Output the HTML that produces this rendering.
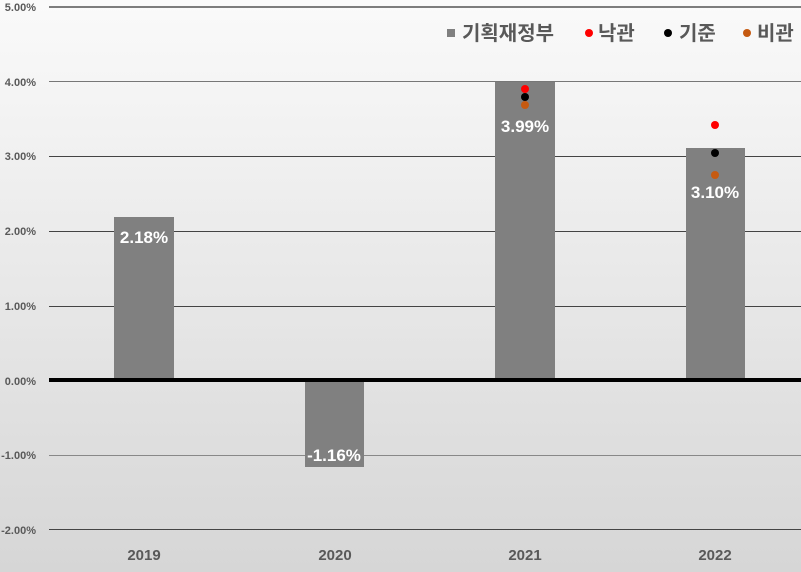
<!DOCTYPE html>
<html><head><meta charset="utf-8"><style>body{margin:0}svg{display:block}</style></head><body>
<svg width="801" height="572" xmlns="http://www.w3.org/2000/svg" font-family="'Liberation Sans','Noto Sans CJK KR',sans-serif">
<defs><linearGradient id="g" x1="0" y1="0" x2="0" y2="1"><stop offset="0" stop-color="#fafafa"/><stop offset="1" stop-color="#d6d6d6"/></linearGradient></defs>
<rect width="801" height="572" fill="url(#g)"/>
<g stroke-width="1">
<line x1="49" x2="801" y1="7" y2="7" stroke="#000"/>
<line x1="49" x2="801" y1="81.5" y2="81.5" stroke="#777"/>
<line x1="49" x2="801" y1="156.5" y2="156.5" stroke="#444"/>
<line x1="49" x2="801" y1="231.5" y2="231.5" stroke="#444"/>
<line x1="49" x2="801" y1="306.5" y2="306.5" stroke="#444"/>
<line x1="49" x2="801" y1="455.5" y2="455.5" stroke="#888"/>
<line x1="49" x2="801" y1="529.5" y2="529.5" stroke="#444"/>
</g>
<g fill="#808080">
<rect x="114" y="217" width="60" height="163"/>
<rect x="305" y="380" width="59" height="87"/>
<rect x="495" y="82" width="60" height="298"/>
<rect x="686" y="148" width="59" height="232"/>
</g>
<rect x="49" y="378" width="752" height="4" fill="#000"/>
<g font-size="11" font-weight="bold" fill="#595959" text-anchor="end">
<text x="36" y="11">5.00%</text><text x="36" y="86">4.00%</text><text x="36" y="160">3.00%</text>
<text x="36" y="235">2.00%</text><text x="36" y="310">1.00%</text><text x="36" y="385">0.00%</text>
<text x="36" y="459">-1.00%</text><text x="36" y="534">-2.00%</text>
</g>
<g font-size="15" font-weight="bold" fill="#595959" text-anchor="middle">
<text x="144" y="560">2019</text><text x="335" y="560">2020</text><text x="525" y="560">2021</text><text x="715" y="560">2022</text>
</g>
<g font-size="17" font-weight="bold" fill="#fff" text-anchor="middle">
<text x="144" y="243">2.18%</text><text x="334" y="461">-1.16%</text><text x="525" y="132">3.99%</text><text x="715" y="198">3.10%</text>
</g>
<circle cx="525" cy="89" r="4" fill="#f00"/><circle cx="525" cy="97" r="4" fill="#000"/><circle cx="525" cy="105" r="4" fill="#c55a11"/>
<circle cx="715" cy="125" r="4" fill="#f00"/><circle cx="715" cy="153" r="4" fill="#000"/><circle cx="715" cy="175" r="4" fill="#c55a11"/>
<rect x="447" y="29" width="8" height="8" fill="#808080"/>
<g font-size="20" font-weight="bold" fill="#595959">
<text x="462" y="40">기획재정부</text>
<circle cx="589" cy="33" r="4" fill="#f00"/><text x="598" y="40">낙관</text>
<circle cx="668" cy="33" r="4" fill="#000"/><text x="679" y="40">기준</text>
<circle cx="747" cy="33" r="4" fill="#c55a11"/><text x="757" y="40">비관</text>
</g>
</svg>
</body></html>
